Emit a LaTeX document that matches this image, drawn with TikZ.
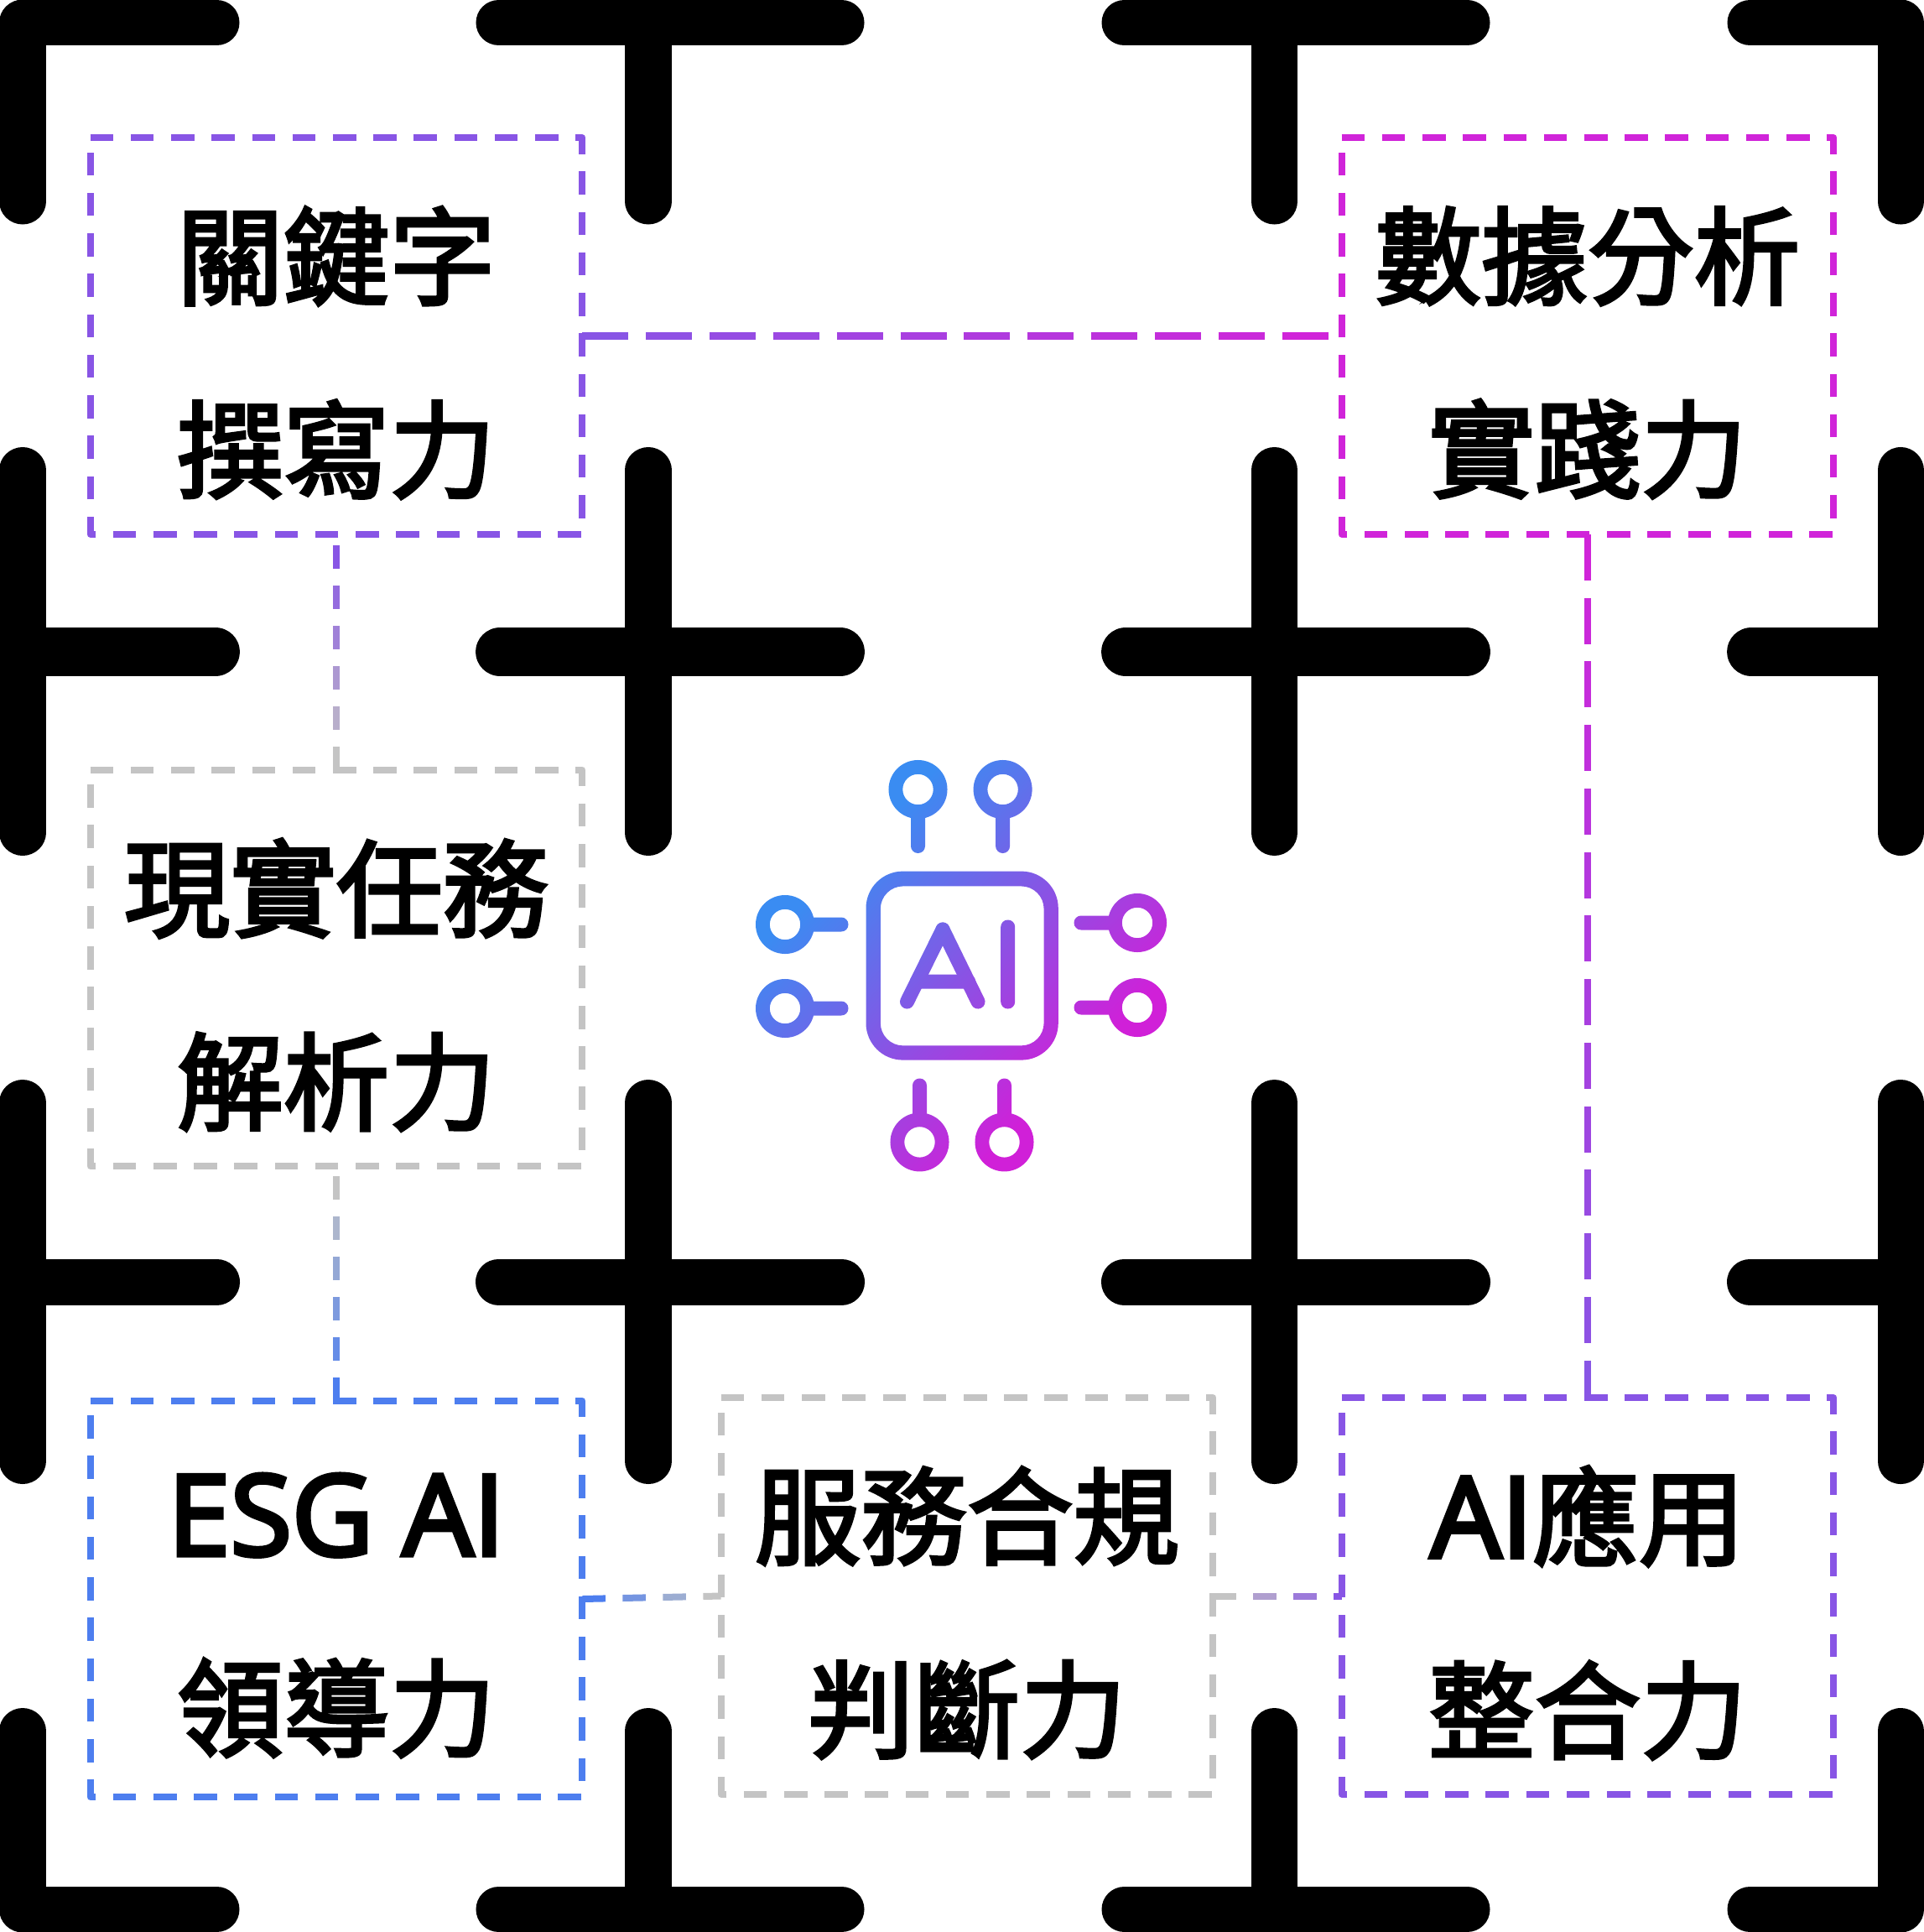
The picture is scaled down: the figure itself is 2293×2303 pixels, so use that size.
\documentclass[tikz,border=0pt]{standalone}
\usepackage{fontspec}
\usetikzlibrary{calc}
\newfontfamily\cjkfont{Noto Sans CJK TC}[FakeBold=3]
\newfontfamily\latinfont{Open Sans}[FakeBold=4]
\definecolor{linepurple}{HTML}{8855E5}
\definecolor{linemagenta}{HTML}{D024D9}
\definecolor{linegrey}{HTML}{C4C4C4}
\definecolor{lineblue}{HTML}{4D7EEF}
\definecolor{iconblue}{HTML}{3A8CF2}
\definecolor{iconmagenta}{HTML}{D020D8}
\pgfdeclarehorizontalshading{icongrad}{100bp}{color(0bp)=(iconblue); color(32.5bp)=(iconblue); color(67.2bp)=(iconmagenta); color(100bp)=(iconmagenta)}
\tikzset{
    barline/.style={line width=0.55cm, line cap=round, line join=round},
    skillbox/.style={minimum width=5.85cm, minimum height=4.71cm, inner sep=0pt},
    boxline/.style={line width=0.08cm, line join=round, dash pattern=on 0.275cm off 0.207cm},
    linkdash/.style={line width=0.08cm},
    skilltext/.style={align=center, inner sep=0pt, font=\fontsize{36}{65.5}\selectfont\cjkfont},
    iconfill/.style={shading=icongrad, shading angle=-45},
}
% one dash at a time, so that the colour can change along the link
\newcommand{\fadelink}[7]{%
    \foreach \k [evaluate=\k as \p using {100*(\k-1)/(#3-1)}] in {1,...,#3}{
        \draw[linkdash, #7!\p!#6] let \p1=($(#2)-(#1)$), \n1={min(veclen(\x1,\y1),((\k-1)*#5+#4)*28.4528)*1pt} in
            ($(#1)!{(\k-1)*#5*1cm}!(#2)$) -- ($(#1)!\n1!(#2)$);
    }}
% the icon is cut out of one big shaded square, piece by piece
\newcommand{\iconshade}{\shade[iconfill] (877,880) rectangle (1417,1420);}
\newcommand{\iconstroke}[4]{%
    \pgfmathsetmacro\ang{atan2(-(#4-#2),#3-#1)}
    \pgfmathsetmacro\len{veclen(#3-#1,#4-#2)*0.01}
    \begin{scope}
        \clip[shift={(#1,#2)}, rotate=\ang, rounded corners=0.084cm] (-0.085cm,-0.085cm) rectangle ({(\len+0.085)*1cm},0.085cm);
        \iconshade
    \end{scope}}
\newcommand{\iconring}[2]{%
    \begin{scope}[even odd rule]
        \clip (#1,#2) circle (0.35cm) (#1,#2) circle (0.182cm);
        \iconshade
    \end{scope}}
\begin{document}
\begin{tikzpicture}[x=0.01cm, y=-0.01cm]
    \useasboundingbox (0,0) rectangle (2293,2303);
    % black grid
    \foreach \x in {27,773,1519.5,2266}
        \foreach \ya/\yb in {27/240,560.5/992.5,1314.5/1741.5,2063.5/2276}
            \draw[barline] (\x,\ya) -- (\x,\yb);
    \foreach \y/\w/\s in {27/0.54/0,777/0.587/0.02,1528/0.55/0,2276/0.54/0}
        \foreach \xa/\xb in {27/258.5,594.5/1003.5,1340.5/1749.5,2086.5/2266}
            \draw[barline, line width=\w cm, shorten <=\s cm, shorten >=\s cm] (\xa,\y) -- (\xb,\y);
    % boxes
    \node[skillbox] (keyword) at (401,400.5) {};
    \node[skillbox] (data) at (1893,400.5) {};
    \node[skillbox] (reality) at (401,1154) {};
    \node[skillbox] (esg) at (401,1906) {};
    \node[skillbox] (service) at (1153,1902.5) {};
    \node[skillbox] (application) at (1893,1902.5) {};
    \foreach \b/\c in {keyword/linepurple,data/linemagenta,reality/linegrey,esg/lineblue,service/linegrey,application/linepurple}
        \draw[boxline, \c] (\b.north west) -- (\b.north east) -- (\b.south east) -- (\b.south west) -- cycle;
    % texts
    \node[skilltext] (keywordtext) at ($(keyword)+(0,20)$) {關鍵字\\撰寫力};
    \node[skilltext] (datatext) at ($(data)+(0,20)$) {數據分析\\實踐力};
    \node[skilltext] (realitytext) at ($(reality)+(0,20)$) {現實任務\\解析力};
    \node[skilltext] (esgtext) at ($(esg)+(0,20)$) {{\fontsize{38}{65.5}\selectfont\latinfont ESG AI}\\領導力};
    \node[skilltext] (servicetext) at ($(service)+(0,20)$) {服務合規\\判斷力};
    \node[skilltext] (applicationtext) at ($(application)+(0,20)$) {{\fontsize{38}{65.5}\selectfont\latinfont AI}應用\\整合力};
    % links
    \fadelink{keyword.east}{data.west}{12}{0.55}{0.758}{linepurple}{linemagenta}
    \fadelink{data.south}{application.north}{14}{0.55}{0.757}{linemagenta}{linepurple}
    \fadelink{reality.north}{keyword.south}{6}{0.275}{0.48}{linegrey}{linepurple}
    \fadelink{esg.north}{reality.south}{6}{0.275}{0.48}{lineblue}{linegrey}
    \fadelink{esg.east}{service.west}{4}{0.275}{0.48}{lineblue}{linegrey}
    \fadelink{service.east}{application.west}{4}{0.275}{0.48}{linegrey}{linepurple}
    % icon: chip
    \begin{scope}[even odd rule]
        \clip[rounded corners=0.44cm] (1032.5,1038.6) rectangle (1261.8,1263.6) [rounded corners=0.27cm] (1049.8,1056.4) rectangle (1244.6,1246.4);
        \iconshade
    \end{scope}
    % icon: letters
    \iconstroke{1081.5}{1194}{1124}{1108}
    \iconstroke{1124}{1108}{1166}{1194}
    \iconstroke{1093.4}{1170}{1154.6}{1170}
    \iconstroke{1201.7}{1105}{1201.7}{1194}
    % icon: pins
    \foreach \x in {1094.5,1195.6}{
        \iconring{\x}{941}
        \iconstroke{\x}{970}{\x}{1008.5}
    }
    \foreach \x in {1096.5,1197.5}{
        \iconring{\x}{1361.4}
        \iconstroke{\x}{1332}{\x}{1294}
    }
    \foreach \y in {1102,1202}{
        \iconring{936}{\y}
        \iconstroke{965}{\y}{1003}{\y}
    }
    \foreach \y in {1100,1201}{
        \iconring{1356}{\y}
        \iconstroke{1327}{\y}{1289}{\y}
    }
\end{tikzpicture}
\end{document}
